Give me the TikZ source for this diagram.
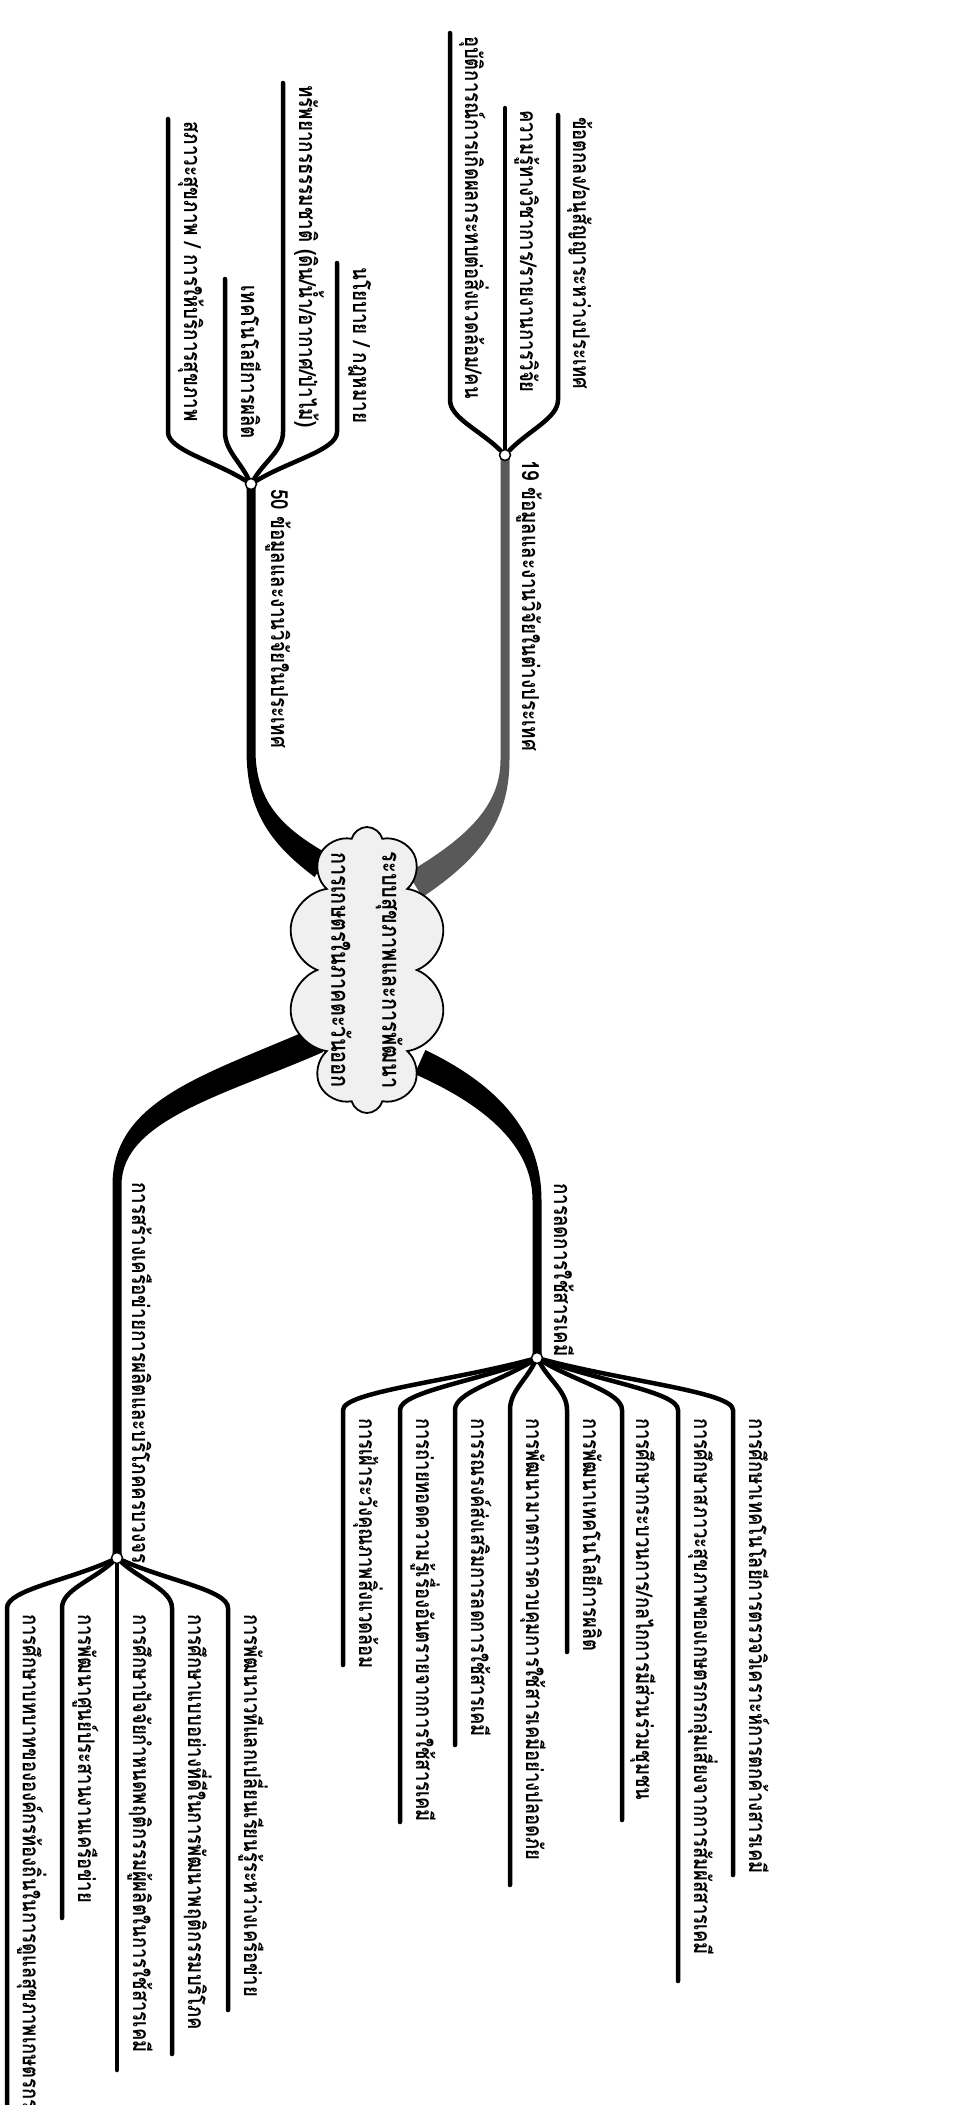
\documentclass[tikz,border=0pt]{standalone}
\usepackage{fontspec}
\newfontfamily\thaifont[Script=Thai, FakeStretch=0.8]{Loma}
\usetikzlibrary{shapes.symbols, backgrounds, calc}

\begin{document}
\begin{tikzpicture}[x=1pt, y=-1pt,
  leaf/.style={rotate=-90, anchor=base west, inner sep=0pt, font=\thaifont\bfseries\fontsize{23}{26}\selectfont},
  bigleaf/.style={leaf, font=\thaifont\bfseries\fontsize{23.5}{26}\selectfont},
  blabel/.style={rotate=-90, anchor=base west, inner sep=0pt, font=\thaifont\bfseries\fontsize{23.5}{28}\selectfont},
  twig/.style={line width=4.5pt, line cap=round},
  hub/.style={circle, draw=black, line width=1.5pt, fill=white, inner sep=0pt, minimum size=11pt},
  core/.style={cloud, cloud puffs=10, aspect=0.56, draw, line width=1.8pt, fill=black!6,
    inner sep=0pt, minimum width=160pt, minimum height=286pt},
  coretext/.style={rotate=-90, align=center, inner sep=0pt, font=\thaifont\bfseries\fontsize{25}{51}\selectfont}
]
\useasboundingbox (0,0) rectangle (964,2105);

% centre of the map
\node[core] (sys) at (367,970) {};
\node[coretext] (systext) at (sys.center) {ระบบสุขภาพและการพัฒนา\\การเกษตรในภาคตะวันออก};

% hubs
\node[hub] (abroad) at (505,455) {};
\node[hub] (local) at (251,484) {};
\node[hub] (chem) at (537,1358) {};
\node[hub] (net) at (117,1558) {};

% main branch labels
\node[blabel] (abroadlbl) at (522,460) {19 ข้อมูลและงานวิจัยในต่างประเทศ};
\node[blabel] (locallbl) at (271,489) {50 ข้อมูลและงานวิจัยในประเทศ};
\node[blabel] (chemlbl) at (554,1183) {การลดการใช้สารเคมี};
\node[blabel] (netlbl) at (132,1182) {การสร้างเครือข่ายการผลิตและบริโภคครบวงจร};

% data from abroad
\node[leaf] (f1) at (465,36) {อุบัติการณ์การเกิดผลกระทบต่อสิ่งแวดล้อม/คน};
\node[leaf] (f2) at (520,110) {ความรู้ทางวิชาการ/รายงานการวิจัย};
\node[leaf] (f3) at (573,117) {ข้อตกลง/อนุสัญญาระหว่างประเทศ};

% data from Thailand
\node[bigleaf] (d1) at (184,121) {สภาวะสุขภาพ / การให้บริการสุขภาพ};
\node[bigleaf] (d2) at (241,285) {เทคโนโลยีการผลิต};
\node[bigleaf] (d3) at (299,85) {ทรัพยากรธรรมชาติ (ดิน/น้ำ/อากาศ/ป่าไม้)};
\node[bigleaf] (d4) at (353,267) {นโยบาย / กฎหมาย};

% less chemicals
\node[leaf] (c1) at (359,1418) {การเฝ้าระวังคุณภาพสิ่งแวดล้อม};
\node[leaf] (c2) at (416,1418) {การถ่ายทอดความรู้เรื่องอันตรายจากการใช้สารเคมี};
\node[leaf] (c3) at (471,1418) {การรณรงค์ส่งเสริมการลดการใช้สารเคมี};
\node[leaf] (c4) at (526,1418) {การพัฒนามาตรการควบคุมการใช้สารเคมีอย่างปลอดภัย};
\node[leaf] (c5) at (583,1418) {การพัฒนาเทคโนโลยีการผลิต};
\node[leaf] (c6) at (636,1418) {การศึกษากระบวนการ/กลไกการมีส่วนร่วมชุมชน};
\node[leaf] (c7) at (694,1418) {การศึกษาสภาวะสุขภาพของเกษตรกรกลุ่มเสี่ยงจากการสัมผัสสารเคมี};
\node[leaf] (c8) at (749,1418) {การศึกษาเทคโนโลยีการตรวจวิเคราะห์การตกค้างสารเคมี};

% network
\node[leaf] (n1) at (23,1614) {การศึกษาบทบาทขององค์กรท้องถิ่นในการดูแลสุขภาพเกษตรกร};
\node[leaf] (n2) at (78,1614) {การพัฒนาศูนย์ประสานงานเครือข่าย};
\node[leaf] (n3) at (133,1614) {การศึกษาปัจจัยกำหนดพฤติกรรมผู้ผลิตในการใช้สารเคมี};
\node[leaf] (n4) at (188,1614) {การศึกษาแบบอย่างที่ดีในการพัฒนาพฤติกรรมบริโภค};
\node[leaf] (n5) at (244,1614) {การพัฒนาเวทีแลกเปลี่ยนเรียนรู้ระหว่างเครือข่าย};

\begin{scope}[on background layer]
  % thick branches, wider where they leave the cloud
  \fill[black!65] (500.5,455) -- (500.5,760) .. controls (500.5,808) and (463,840) .. (407.5,873)
    -- (422.5,897) .. controls (478,860) and (509.5,822) .. (509.5,760) -- (509.5,455) -- cycle;
  \fill (246.5,484) -- (246.5,750) .. controls (246.5,815) and (274,846) .. (314.5,877)
    -- (329.5,855) .. controls (286,830) and (255.5,805) .. (255.5,750) -- (255.5,484) -- cycle;
  \fill (425.4,1050) .. controls (492,1082) and (541.5,1128) .. (541.5,1200) -- (541.5,1358)
    -- (532.5,1358) -- (532.5,1200) .. controls (532.5,1142) and (478,1102) .. (414.6,1074) -- cycle;
  \fill (312.8,1028) .. controls (205,1075) and (112.5,1100) .. (112.5,1185) -- (112.5,1558)
    -- (121.5,1558) -- (121.5,1185) .. controls (121.5,1120) and (225,1095) .. (323.2,1052) -- cycle;

  % twigs
  \foreach \x/\t in {450/33, 505/108, 558/115}
    \draw[twig] (abroad) .. controls ($(abroad)!0.45!(\x,400)$) and (\x,418) .. (\x,400) -- (\x,\t);
  \foreach \x/\t in {168/119, 225/279, 283/83, 337/263}
    \draw[twig] (local) .. controls ($(local)!0.45!(\x,432)$) and (\x,450) .. (\x,432) -- (\x,\t);
  \foreach \x/\b in {343/1665, 400/1822, 455/1745, 510/1885, 567/1652, 622/1820, 678/1981, 733/1875}
    \draw[twig] (chem) .. controls ($(chem)!0.45!(\x,1410)$) and (\x,1392) .. (\x,1410) -- (\x,\b);
  \foreach \x/\b in {7/2120, 62/1918, 117/2070, 172/2054, 228/2010}
    \draw[twig] (net) .. controls ($(net)!0.45!(\x,1608)$) and (\x,1590) .. (\x,1608) -- (\x,\b);
\end{scope}
\end{tikzpicture}
\end{document}
